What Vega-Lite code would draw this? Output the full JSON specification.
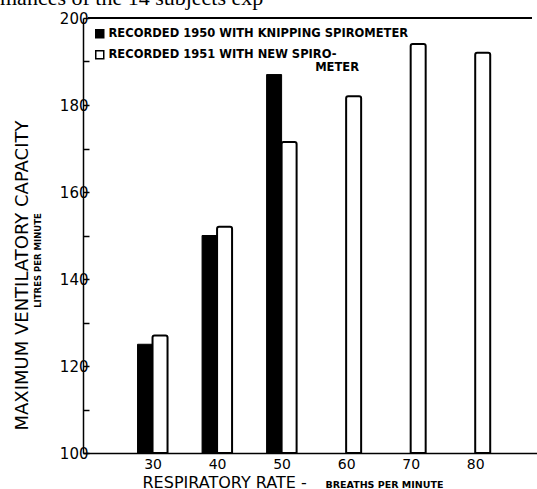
{
  "$schema": "https://vega.github.io/schema/vega-lite/v6.json",
  "autosize": {"type": "none"},
  "padding": {"left": 83, "top": 18, "right": 0, "bottom": 36},
  "width": 454,
  "height": 435,
  "background": "white",
  "title": {"text": "mances of the 14 subjects  exp", "anchor": "start", "frame": "group", "dx": -83, "offset": -16, "font": "Liberation Serif", "fontSize": 22, "fontWeight": "normal", "color": "black", "baseline": "alphabetic"},
  "config": {
    "view": {"stroke": null},
    "axis": {"domainColor": "black", "domainWidth": 1.5, "tickColor": "black", "labelColor": "black", "titleColor": "black", "grid": false, "labelFont": "DejaVu Sans", "titleFont": "DejaVu Sans", "titleFontWeight": "normal"},
    "legend": {"labelFont": "DejaVu Sans", "labelColor": "black"}
  },
  "data": {"values": [
    {"rate": 30, "series": "1950", "value": 125},
    {"rate": 30, "series": "1951", "value": 127},
    {"rate": 40, "series": "1950", "value": 150},
    {"rate": 40, "series": "1951", "value": 152},
    {"rate": 50, "series": "1950", "value": 187},
    {"rate": 50, "series": "1951", "value": 171.5},
    {"rate": 60, "series": "1951", "value": 182},
    {"rate": 70, "series": "1951", "value": 194},
    {"rate": 80, "series": "1951", "value": 192}
  ]},
  "resolve": {"axis": {"x": "independent", "y": "independent"}},
  "layer": [
    {
      "transform": [{"filter": "datum.series == '1950'"}],
      "mark": {"type": "bar", "width": 15, "xOffset": -7.5, "stroke": "black", "strokeWidth": 1},
      "encoding": {
        "x": {"field": "rate", "type": "quantitative", "scale": {"domain": [20, 88.8], "nice": false, "zero": false},
          "axis": {"orient": "bottom", "values": [30, 40, 50, 60, 70, 80], "ticks": false, "labelPadding": 4, "labelFontSize": 14, "labelFontWeight": "normal", "title": "RESPIRATORY RATE  -", "titleFontSize": 16, "titleAlign": "left", "titleAnchor": "start", "titleX": 59, "titleY": 34, "titleBaseline": "alphabetic"}},
        "y": {"field": "value", "type": "quantitative", "scale": {"domain": [100, 200], "nice": false, "zero": false},
          "axis": {"orient": "left", "values": [100, 110, 120, 130, 140, 150, 160, 170, 180, 190, 200], "labelExpr": "datum.value % 20 == 0 ? datum.label : ''", "tickSize": -6, "tickWidth": 1.5, "labelPadding": 1, "labelFontSize": 15, "labelFontWeight": "normal", "title": "MAXIMUM VENTILATORY CAPACITY", "titleFontSize": 18, "titleAngle": -90, "titleAlign": "center", "titleBaseline": "alphabetic", "titleX": -56, "titleY": 257}},
        "y2": {"datum": 100},
        "fill": {"field": "series", "type": "nominal", "scale": {"domain": ["1950", "1951"], "range": ["black", "white"]},
          "legend": {"orient": "none", "legendX": 11, "legendY": 10, "title": null, "symbolType": "square", "symbolSize": 64, "symbolStrokeColor": "black", "symbolStrokeWidth": 1.5, "labelFontSize": 11.5, "labelFontWeight": "bold", "rowPadding": 6, "labelOffset": 3,
            "labelExpr": "datum.value == '1950' ? 'RECORDED 1950 WITH  KNIPPING SPIROMETER' : ['RECORDED 1951 WITH NEW SPIRO-', '\u2800\u2800\u2800\u2800\u2800\u2800\u2800\u2800\u2800\u2800\u2800\u2800\u2800\u2800\u2800\u2800\u2800\u2800\u2800\u2800\u2800\u2800\u2800METER']", "labelLimit": 400}}
      }
    },
    {
      "transform": [{"filter": "datum.series == '1951'"}],
      "mark": {"type": "bar", "width": 15, "xOffset": 7.5, "stroke": "black", "strokeWidth": 2, "cornerRadiusTopLeft": 2, "cornerRadiusTopRight": 2},
      "encoding": {
        "x": {"field": "rate", "type": "quantitative", "axis": null},
        "y": {"field": "value", "type": "quantitative", "axis": null},
        "y2": {"datum": 100},
        "fill": {"field": "series", "type": "nominal"}
      }
    },
    {
      "mark": {"type": "rule", "color": "black", "strokeWidth": 1.5},
      "encoding": {
        "y": {"datum": 200, "type": "quantitative",
          "axis": {"orient": "left", "domain": false, "ticks": false, "labels": false, "title": "LITRES PER MINUTE", "titleFontSize": 8.5, "titleFontWeight": "bold", "titleAngle": -90, "titleAlign": "center", "titleBaseline": "alphabetic", "titleX": -43, "titleY": 242}},
        "x": {"datum": 20, "type": "quantitative", "axis": {"orient": "bottom", "domain": false, "ticks": false, "labels": false, "title": "BREATHS PER MINUTE", "titleFontSize": 9.5, "titleFontWeight": "bold", "titleAlign": "left", "titleAnchor": "start", "titleX": 242, "titleY": 34, "titleBaseline": "alphabetic"}},
        "x2": {"datum": 88.8}
      }
    }
  ]
}
